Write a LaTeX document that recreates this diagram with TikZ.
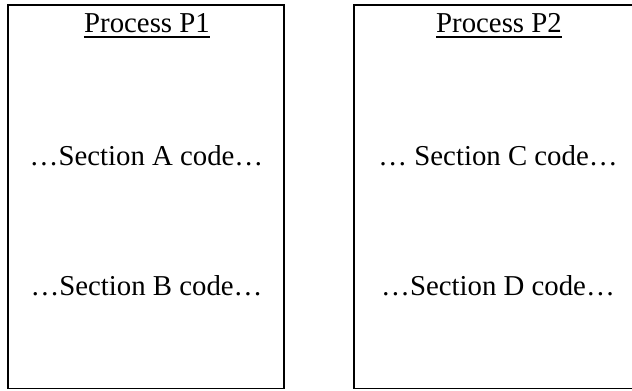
\documentclass[tikz,border=0pt]{standalone}
\usepackage{fontspec}
\setmainfont{Liberation Serif}
\begin{document}
\begin{tikzpicture}[x=1bp,y=-1bp,
  procbox/.style={draw=black,line width=1.8bp},
  codetext/.style={inner sep=0pt,anchor=base,font=\fontsize{28.8bp}{34bp}\selectfont},
  uline/.style={line width=1.6bp}]
\useasboundingbox (0,0) rectangle (632,390);
\clip (0,0) rectangle (632,390);
\draw[procbox] (8,5) rectangle (284,388.5);
\draw[procbox] (354,5) rectangle (642,388.5);
\node[codetext] (t1) at (147,32) {Process P1};
\node[codetext] (t2) at (499,32) {Process P2};
\draw[uline] ([yshift=-5bp]t1.base west) -- ([yshift=-5bp]t1.base east);
\draw[uline] ([yshift=-5bp]t2.base west) -- ([yshift=-5bp]t2.base east);
\node[codetext] (a) at (146.5,165) {…Section A code…};
\node[codetext] (b) at (146.5,295) {…Section B code…};
\node[codetext] (c) at (498,165) {… Section C code…};
\node[codetext] (d) at (498,295) {…Section D code…};
\end{tikzpicture}
\end{document}
